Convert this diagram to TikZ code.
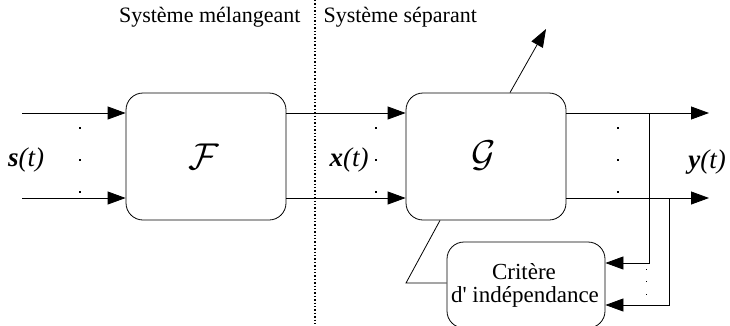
\documentclass[tikz,border=0pt]{standalone}
\usepackage{fontspec}
\setmainfont{Liberation Serif}
\usetikzlibrary{arrows.meta}
\begin{document}
\begin{tikzpicture}[x=1pt,y=-1pt,
  blk/.style={draw,line width=0.8pt,rounded corners=17pt,inner sep=0pt},
  arr/.style={line width=0.8pt,-{Triangle[length=18pt,width=13pt]}},
  ln/.style={line width=0.8pt},
  dt/.style={fill,minimum size=2.2pt,inner sep=0pt},
  sdt/.style={fill,minimum size=1pt,inner sep=0pt},
  lbl/.style={font=\fontsize{22}{26}\selectfont},
  sig/.style={font=\fontsize{27}{30}\selectfont\bfseries\itshape},
  big/.style={font=\fontsize{24.88}{28}\selectfont,scale=1.5}]
\useasboundingbox (0,0) rectangle (730,325);
% boxes
\node[blk,minimum width=160pt,minimum height=127pt] (F) at (206,156.5) {};
\node[blk,minimum width=160pt,minimum height=127pt] (G) at (486,156.5) {};
\node[big] (Ft) at (204,157) {$\mathcal{F}$};
\node[big] (Gt) at (484,156) {$\mathcal{G}$};
\node[blk,minimum width=158pt,minimum height=86pt] (C) at (526,285) {};
\node[font=\fontsize{23}{24}\selectfont] (c1) at (524,272) {Critère};
\node[font=\fontsize{23}{24}\selectfont] (c2) at (525,297) {d\textquotesingle{} indépendance};
% separator
\coordinate (sepT) at (315,0);
\coordinate (sepB) at (315,325);
\draw[line width=1.4pt,dotted] (sepT) -- (sepB);
\node[lbl,anchor=east] (lm) at (304,17) {Système mélangeant};
\node[lbl,anchor=west] (ls) at (320,17) {Système séparant};
% coordinates
\coordinate (in1) at (22,113);
\coordinate (in2) at (22,198);
\coordinate (out1) at (709,113);
\coordinate (out2) at (709,198);
\coordinate (b1) at (649,113);
\coordinate (b2) at (669,198);
\coordinate (fb1) at (0,263);
\coordinate (fb2) at (0,305);
\coordinate (g1) at (440,0);
\coordinate (k1) at (406,283);
\coordinate (u1) at (510,0);
\coordinate (up) at (546,29);
% arrows
\draw[arr] (in1) -- (in1 -| F.west);
\draw[arr] (in2) -- (in2 -| F.west);
\draw[arr] (F.east |- in1) -- (G.west |- in1);
\draw[arr] (F.east |- in2) -- (G.west |- in2);
\draw[arr] (G.east |- in1) -- (out1);
\draw[arr] (G.east |- in2) -- (out2);
\draw[arr] (b1) |- (C.east |- fb1);
\draw[arr] (b2) |- (C.east |- fb2);
\draw[ln] (G.south -| g1) -- (k1) -- (C.west |- k1);
\draw[arr] (G.north -| u1) -- (up);
% dots
\foreach \x/\n in {80/a,376/b,618/c}{
  \node[dt] (\n1) at (\x,128) {};
  \node[dt] (\n2) at (\x,160) {};
  \node[dt] (\n3) at (\x,192) {};
}
\node[sdt] (d1) at (646,269) {};
\node[sdt] (d2) at (646,281) {};
\node[sdt] (d3) at (646,294) {};
% signal labels
\node[sig] (s) at (26,160) {s\textmd{(t)}};
\node[sig] (xx) at (349,160) {x\textmd{(t)}};
\node[sig] (y) at (707,162) {y\textmd{(t)}};
\end{tikzpicture}
\end{document}
